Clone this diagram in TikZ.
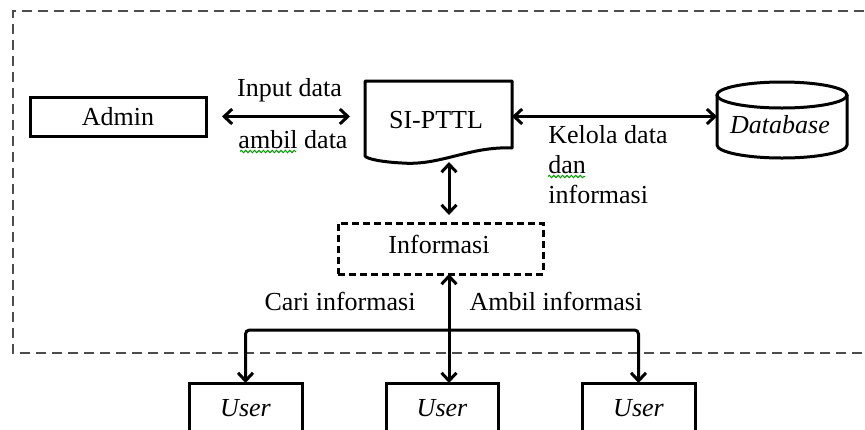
\documentclass[tikz,border=0pt]{standalone}
\usepackage{fontspec}
\setmainfont{Liberation Serif}
\usetikzlibrary{arrows.meta,decorations.pathmorphing}
\begin{document}
\begin{tikzpicture}[x=0.5pt,y=-0.5pt,
  font=\fontsize{13}{15}\selectfont,
  box/.style={draw,line width=1.5pt,inner sep=0pt,outer sep=0pt},
  dbox/.style={draw,line width=1.5pt,dash pattern=on 3.5pt off 2pt,inner sep=0pt,outer sep=0pt},
  ghost/.style={inner sep=0pt,outer sep=0pt},
  tip/.tip={Straight Barb[length=4pt,width=7.5pt]},
  conn/.style={line width=1.5pt,{tip}-{tip}},
  oneway/.style={line width=1.5pt,-{tip},rounded corners=2pt},
  frame/.style={line width=1pt,draw=black!70,dash pattern=on 5pt off 3pt},
  squig/.style={draw=green!60!black,line width=0.5pt,decorate,decoration={snake,amplitude=0.6pt,segment length=2.2pt}},
  lbl/.style={inner sep=0pt,anchor=base}
]
\useasboundingbox (0,0) rectangle (865,429);
\clip (0,0) rectangle (865,429);
\fill[white] (0,0) rectangle (865,429);

% outer dashed frame (right side beyond the picture)
\draw[frame] (880,11) -- (13,11) -- (13,353) -- (880,353);

% nodes
\node[box,minimum width=88pt,minimum height=19.5pt] (admin) at (118,116.5) {Admin};
\node[ghost,minimum width=73.5pt,minimum height=40.5pt] (sip) at (438.5,121.5) {};
\draw[line width=1.5pt,line join=round] (365,81) -- (512,81) -- (512,148)
  .. controls (470,146) and (440,166) .. (402,163)
  .. controls (382,162) and (367,159) .. (365,156) -- cycle;
\node[lbl] (siptxt) at (436,128) {SI-PTTL};

\node[ghost,minimum width=65pt,minimum height=38pt] (db) at (782,120) {};
\draw[line width=1.5pt] (717,95) -- (717,145) arc[start angle=180,end angle=360,x radius=32.5pt,y radius=6.5pt] -- (847,95);
\draw[line width=1.5pt] (782,95) ellipse[x radius=32.5pt,y radius=6.5pt];
\node[lbl] (dbtxt) at (780,133) {\itshape Database};

\node[dbox,minimum width=102.5pt,minimum height=25.5pt] (info) at (440.5,248.5) {};
\node[lbl] (infotxt) at (439,253) {Informasi};

\node[box,minimum width=56.5pt,minimum height=25pt] (u1) at (245.5,408) {\itshape User};
\node[box,minimum width=56pt,minimum height=25pt] (u2) at (442,408) {\itshape User};
\node[box,minimum width=56.5pt,minimum height=25pt] (u3) at (638.5,408) {\itshape User};

\coordinate (col) at (449,0);
\coordinate (hy) at (0,330);

% connectors
\draw[conn,shorten <=8pt,shorten >=7.5pt] (admin.east) -- (admin.east -| sip.west);
\draw[conn] (admin.east -| sip.east) -- (admin.east -| db.west);
\draw[conn,shorten >=4pt] (col |- sip.south) -- (col |- info.north);
\draw[conn] (col |- info.south) -- (col |- u2.north);
\draw[oneway] (col |- hy) -| (u1.north);
\draw[oneway] (col |- hy) -| (u3.north);

% labels
\node[lbl] (l1) at (289.5,96.5) {Input data};
\node[lbl] (l2) at (293,148) {ambil data};
\node[align=left,anchor=north west,inner sep=0pt] (l3) at (548,125) {Kelola data\\dan\\informasi};
\node[lbl] (l4) at (340,310) {Cari informasi};
\node[lbl] (l5) at (556,310) {Ambil informasi};

% spell-check squiggles
\draw[squig] (240,151.5) -- (296,151.5);
\draw[squig] (548,176.5) -- (585,176.5);
\end{tikzpicture}
\end{document}
